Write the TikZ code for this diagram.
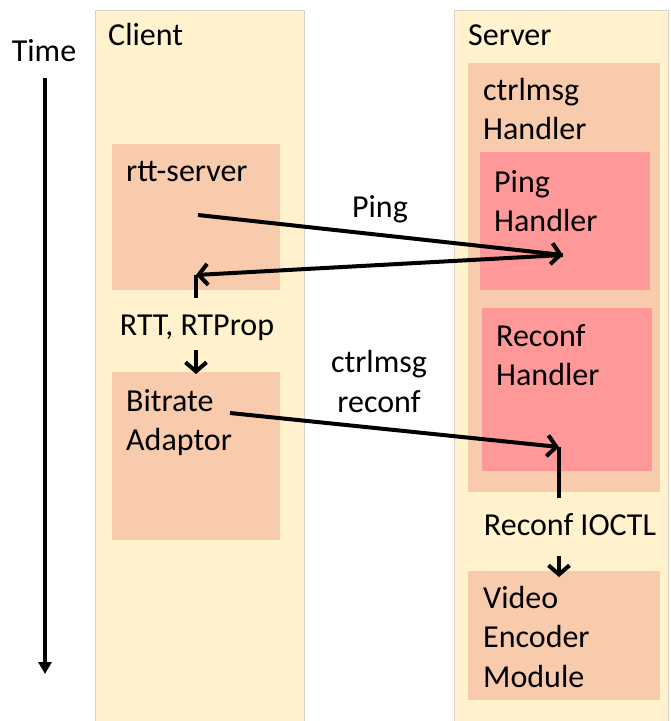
\documentclass[tikz,border=0pt]{standalone}
\usepackage{fontspec}
\setmainfont{Carlito}
\usetikzlibrary{arrows.meta}
\definecolor{colfill}{HTML}{FFF2CC}
\definecolor{colline}{HTML}{D6D2C4}
\definecolor{boxfill}{HTML}{F8CBAD}
\definecolor{pinkfill}{HTML}{FF9999}
\tikzset{
  column/.style={draw=colline, line width=0.8pt, fill=colfill, anchor=north west, inner sep=0pt},
  obox/.style={fill=boxfill, anchor=north west, inner sep=0pt},
  pbox/.style={fill=pinkfill, anchor=north west, inner sep=0pt},
  lbl/.style={font=\fontsize{32}{39.5}\selectfont, inner sep=0pt, align=left},
  msg/.style={line width=4pt, -{Straight Barb[length=9pt,width=21pt,line width=4pt]}},
  plain/.style={line width=4pt},
  tarrow/.style={line width=4pt, -{Triangle[length=12pt,width=13pt]}}
}
\begin{document}
\begin{tikzpicture}[x=1pt,y=-1pt]
\useasboundingbox (0,0) rectangle (671,721);
% columns
\node[column, minimum width=209pt, minimum height=730pt] (client) at (95,10) {};
\node[column, minimum width=214pt, minimum height=730pt] (server) at (454,10) {};
% client boxes
\node[obox, minimum width=168pt, minimum height=146pt] (rtt) at (112,144) {};
\node[obox, minimum width=168pt, minimum height=168pt] (bitrate) at (112,372) {};
% server boxes
\node[obox, minimum width=192pt, minimum height=429pt] (ctrl) at (468,63) {};
\node[pbox, minimum width=170pt, minimum height=138pt] (ping) at (480,152) {};
\node[pbox, minimum width=170pt, minimum height=163pt] (reconf) at (482,308) {};
\node[obox, minimum width=192pt, minimum height=129pt] (video) at (468,571) {};
% labels (multi-line nodes: base = last line)
\node[lbl, anchor=base] (timelbl) at (44,61) {Time};
\node[lbl, anchor=base west] (clientlbl) at (108,45) {Client};
\node[lbl, anchor=base west] (serverlbl) at (468,45) {Server};
\node[lbl, anchor=base west] (ctrllbl) at (483,139.5) {ctrlmsg\\Handler};
\node[lbl, anchor=base west] (rttlbl) at (126,181) {rtt-server};
\node[lbl, anchor=base west] (pinglbl) at (494,231.5) {Ping\\Handler};
\node[lbl, anchor=base] (pingmsg) at (380,217) {Ping};
\node[lbl, anchor=base] (rttmsg) at (197,335) {RTT, RTProp};
\node[lbl, anchor=base west] (bitlbl) at (126,450.5) {Bitrate\\Adaptor};
\node[lbl, anchor=base, align=center] (ctrlmsg) at (379,412) {ctrlmsg\\reconf};
\node[lbl, anchor=base west] (reconflbl) at (496,385.5) {Reconf\\Handler};
\node[lbl, anchor=base] (ioctl) at (570,535) {Reconf IOCTL};
\node[lbl, anchor=base west] (videolbl) at (483,687) {Video\\Encoder\\Module};
% connector points
\coordinate (t1) at (45,78);
\coordinate (t2) at (45,674);
\coordinate (p1) at (198,215);
\coordinate (p2) at (563,255);
\coordinate (r1) at (196,275);
\coordinate (r2) at (196,298);
\coordinate (a1) at (196,350);
\coordinate (a2) at (196,374);
\coordinate (c1) at (230,413);
\coordinate (c2) at (559,447);
\coordinate (c3) at (559,498);
\coordinate (v1) at (559,556);
\coordinate (v2) at (559,577);
% connectors
\draw[tarrow] (t1) -- (t2);
\draw[msg] (p1) -- (p2);
\draw[msg] (p2) -- (r1);
\draw[plain] (r2) -- (r1);
\draw[msg] (a1) -- (a2);
\draw[msg] (c1) -- (c2);
\draw[plain] (c3) -- (c2);
\draw[msg] (v1) -- (v2);
\end{tikzpicture}
\end{document}
